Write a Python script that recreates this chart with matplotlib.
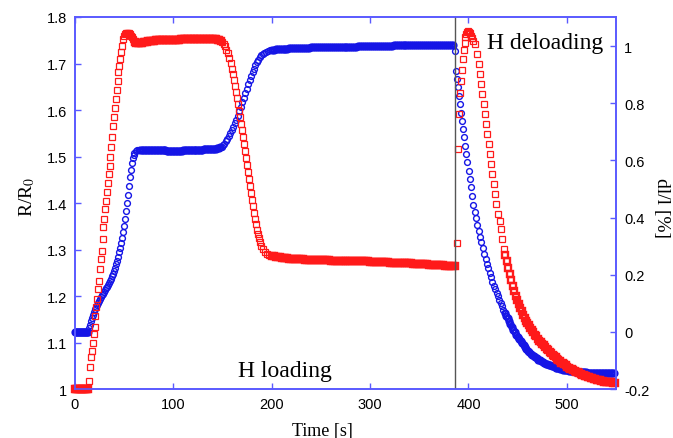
import matplotlib
matplotlib.use('Agg')
import matplotlib.pyplot as plt

plt.rcParams['font.family'] = ['Liberation Sans', 'DejaVu Sans']
plt.rcParams['mathtext.fontset'] = 'stix'

# ---- R/R0 (red squares, left axis) ----
red_base_t = [0, 1, 2, 3, 4, 5, 6, 7, 8, 9, 10, 11, 12, 13]
red_base_r = [1.0, 1.0, 1.0, 1.0, 1.0, 1.0, 1.0, 1.0, 1.0, 1.0, 1.0, 1.0, 1.0, 1.0]

red_rise_t = [14.5, 15.4, 16.3, 17.2, 18.1, 19.0, 19.9, 20.8, 21.7, 22.6,
              23.5, 24.4, 25.3, 26.2, 27.1, 28.0, 28.9, 29.8, 30.7, 31.6,
              32.5, 33.4, 34.3, 35.2, 36.1, 37.0, 37.9, 38.8, 39.7, 40.6,
              41.5, 42.4, 43.3, 44.2, 45.1, 46.0, 46.9, 47.8, 48.7, 49.6,
              50.5, 51.5, 52.5, 53.5, 54.5, 55.5, 56.5, 57.5, 58.5, 59.5]
red_rise_r = [1.018, 1.047, 1.068, 1.082, 1.099, 1.118, 1.133, 1.158, 1.176, 1.194,
              1.215, 1.233, 1.258, 1.280, 1.297, 1.323, 1.348, 1.366, 1.387, 1.405,
              1.424, 1.444, 1.462, 1.480, 1.500, 1.521, 1.543, 1.565, 1.584, 1.604,
              1.624, 1.644, 1.663, 1.681, 1.695, 1.710, 1.724, 1.738, 1.753, 1.760,
              1.763, 1.765, 1.766, 1.766, 1.765, 1.763, 1.760, 1.756, 1.752, 1.749]

red_top_t = [61, 62.5, 64, 65.5, 67, 68.5, 70, 71.5, 73, 74.5,
             76, 77.5, 79, 80.5, 82, 83.5, 85, 86.5, 88, 89.5,
             91, 92.5, 94, 95.5, 97, 98.5, 100, 101.5, 103, 104.5,
             106, 107.5, 109, 110.5, 112, 113.5, 115, 116.5, 118, 119.5,
             121, 122.5, 124, 125.5, 127, 128.5, 130, 131.5, 133, 134.5,
             136, 137.5, 139, 140.5, 142, 143.5, 145, 146.5, 148]
red_top_r = [1.746, 1.745, 1.744, 1.744, 1.745, 1.745, 1.746, 1.746, 1.747, 1.748,
             1.748, 1.749, 1.749, 1.749, 1.750, 1.750, 1.750, 1.750, 1.750, 1.751,
             1.751, 1.751, 1.751, 1.751, 1.751, 1.751, 1.751, 1.751, 1.751, 1.751,
             1.751, 1.752, 1.752, 1.752, 1.752, 1.752, 1.752, 1.752, 1.752, 1.752,
             1.752, 1.752, 1.752, 1.752, 1.752, 1.752, 1.752, 1.752, 1.752, 1.752,
             1.752, 1.752, 1.752, 1.752, 1.752, 1.752, 1.751, 1.750, 1.749]

red_drop_t = [149.5, 151, 152.5, 154, 155.5, 157, 158.5, 160, 161, 162,
              163, 164, 165, 166, 167, 168, 169, 170, 171, 172,
              173, 174, 175, 176, 177, 178, 179, 180, 181, 182,
              183, 184, 185, 186, 187, 188, 189.5, 191, 193, 195, 197.5]
red_drop_r = [1.746, 1.742, 1.737, 1.730, 1.722, 1.712, 1.701, 1.689, 1.677, 1.665,
              1.652, 1.639, 1.626, 1.612, 1.598, 1.584, 1.570, 1.556, 1.541, 1.527,
              1.512, 1.497, 1.482, 1.467, 1.452, 1.437, 1.422, 1.407, 1.393, 1.379,
              1.366, 1.354, 1.343, 1.333, 1.324, 1.316, 1.308, 1.301, 1.295, 1.291, 1.288]

red_low_t = [200, 202, 204, 206, 208, 210, 212, 214, 216, 218,
             220, 222, 224, 226, 228, 230, 232, 234, 236, 238,
             240, 242, 244, 246, 248, 250, 252, 254, 256, 258,
             260, 262, 264, 266, 268, 270, 272, 274, 276, 278,
             280, 282, 284, 286, 288, 290, 292, 294, 296, 298,
             300, 302, 304, 306, 308, 310, 312, 314, 316, 318,
             320, 322, 324, 326, 328, 330, 332, 334, 336, 338,
             340, 342, 344, 346, 348, 350, 352, 354, 356, 358,
             360, 362, 364, 366, 368, 370, 372, 374, 376, 378,
             380, 382, 384, 386]
red_low_r = [1.286, 1.285, 1.284, 1.283, 1.283, 1.282, 1.282, 1.281, 1.281, 1.280,
             1.280, 1.280, 1.280, 1.279, 1.279, 1.279, 1.279, 1.278, 1.278, 1.278,
             1.278, 1.278, 1.277, 1.277, 1.277, 1.277, 1.277, 1.277, 1.277, 1.277,
             1.276, 1.276, 1.276, 1.276, 1.276, 1.276, 1.276, 1.276, 1.276, 1.276,
             1.275, 1.275, 1.275, 1.275, 1.275, 1.275, 1.275, 1.275, 1.275, 1.275,
             1.274, 1.274, 1.274, 1.274, 1.274, 1.274, 1.273, 1.273, 1.273, 1.273,
             1.272, 1.272, 1.272, 1.272, 1.271, 1.271, 1.271, 1.271, 1.270, 1.270,
             1.270, 1.270, 1.269, 1.269, 1.269, 1.269, 1.268, 1.268, 1.268, 1.268,
             1.267, 1.267, 1.267, 1.267, 1.266, 1.266, 1.266, 1.266, 1.265, 1.265,
             1.265, 1.265, 1.264, 1.264]

red_peak_t = [388, 389, 390, 391, 392, 393, 394, 395, 396, 397,
              398, 399, 400, 401, 402, 403, 404, 405, 406.9, 408.6,
              410.3, 411.3, 412.7, 413.7, 415.4, 416.4, 417.8, 418.8, 420.4, 421.5,
              422.9, 424.2, 425.5, 426.9, 428.2, 430, 431.6, 433, 434.5, 436]
red_peak_r = [1.313, 1.516, 1.591, 1.637, 1.663, 1.687, 1.709, 1.728, 1.745, 1.757,
              1.764, 1.768, 1.769, 1.768, 1.765, 1.760, 1.754, 1.749, 1.742, 1.720,
              1.699, 1.677, 1.656, 1.634, 1.613, 1.591, 1.570, 1.548, 1.527, 1.505,
              1.484, 1.462, 1.441, 1.419, 1.398, 1.376, 1.362, 1.344, 1.323, 1.301]

red_tail_t = [437.5, 439, 440.5, 442, 443.5, 445, 446.5, 448, 449.5, 451,
              452.5, 454, 455.5, 457, 458.5, 460, 461.5, 463, 464.5,
              466, 467.5, 469, 470.5, 472, 473.5, 475, 476.5, 478, 479.5,
              481, 482.5, 484, 485.5, 487, 488.5, 490, 491.5, 493, 494.5,
              496, 497.5, 499, 500.5, 502, 503.5, 505, 506.5, 508, 509.5,
              511, 512.5, 514, 515.5, 517, 518.5, 520, 521.5, 523, 524.5,
              526, 527.5, 529, 530.5, 532, 533.5, 535, 536.5, 538, 539.5,
              541, 542.5, 544, 545.5, 547, 548.5]
red_tail_r = [1.289, 1.275, 1.261, 1.247, 1.234, 1.222, 1.210, 1.200, 1.191, 1.183,
              1.175, 1.167, 1.160, 1.153, 1.147, 1.142, 1.137, 1.132, 1.127,
              1.122, 1.117, 1.113, 1.108, 1.104, 1.101, 1.097, 1.094, 1.090, 1.087,
              1.083, 1.080, 1.077, 1.074, 1.071, 1.068, 1.065, 1.062, 1.060, 1.057,
              1.055, 1.053, 1.051, 1.048, 1.046, 1.044, 1.042, 1.041, 1.039, 1.037,
              1.036, 1.034, 1.033, 1.031, 1.030, 1.029, 1.028, 1.026, 1.025, 1.024,
              1.023, 1.022, 1.021, 1.020, 1.019, 1.019, 1.018, 1.017, 1.016, 1.016,
              1.015, 1.015, 1.014, 1.014, 1.013, 1.013]

# ---- dl/l [%] (blue circles, right axis) ----
blue_base_t = [0, 1, 2, 3, 4, 5, 6, 7, 8, 9, 10, 11, 12, 13]
blue_base_d = [0.0, 0.0, 0.0, 0.0, 0.0, 0.0, 0.0, 0.0, 0.0, 0.0, 0.0, 0.0, 0.0, 0.0]

blue_rise_t = [14.5, 15.5, 16.5, 17.5, 18.5, 19.5, 20.5, 21.5, 22.5, 23.5,
               24.5, 25.5, 26.5, 27.5, 28.5, 29.5, 30.5, 31.5, 32.5, 33.5,
               34.5, 35.5, 36.5, 37.5, 38.5, 39.5, 40.5, 41.5, 42.5, 43.5,
               44.5, 45.5, 46.5, 47.5, 48.5, 49.5, 50.5, 51.5, 52.5, 53.5,
               54.5, 55.5, 56.5, 57.5, 58.5, 59.5, 60.5, 62, 63.5, 65]
blue_rise_d = [0.012, 0.025, 0.037, 0.049, 0.060, 0.070, 0.079, 0.087, 0.095, 0.102,
               0.109, 0.116, 0.122, 0.128, 0.134, 0.140, 0.146, 0.152, 0.158, 0.164,
               0.171, 0.178, 0.186, 0.194, 0.203, 0.213, 0.224, 0.236, 0.249, 0.263,
               0.278, 0.294, 0.311, 0.330, 0.350, 0.372, 0.396, 0.422, 0.450, 0.480,
               0.510, 0.540, 0.567, 0.590, 0.607, 0.619, 0.627, 0.632, 0.635, 0.636]

blue_mid_t = [66.5, 68, 69.5, 71, 72.5, 74, 75.5, 77, 78.5, 80,
              81.5, 83, 84.5, 86, 87.5, 89, 90.5, 92, 93.5, 95,
              96.5, 98, 99.5, 101, 102.5, 104, 105.5, 107, 108.5, 110,
              111.5, 113, 114.5, 116, 117.5, 119, 120.5, 122, 123.5, 125,
              126.5, 128, 129.5, 131, 132.5, 134, 135.5, 137, 138.5, 140,
              141.5, 143, 144.5, 146, 147.5]
blue_mid_d = [0.636, 0.636, 0.636, 0.636, 0.636, 0.636, 0.636, 0.636, 0.636, 0.636,
              0.636, 0.636, 0.635, 0.635, 0.635, 0.635, 0.635, 0.635, 0.634, 0.634,
              0.634, 0.634, 0.634, 0.634, 0.634, 0.634, 0.634, 0.634, 0.634, 0.635,
              0.635, 0.635, 0.635, 0.635, 0.635, 0.636, 0.636, 0.636, 0.636, 0.637,
              0.637, 0.637, 0.637, 0.638, 0.638, 0.638, 0.639, 0.639, 0.640, 0.640,
              0.641, 0.641, 0.642, 0.643, 0.645]

blue_up_t = [149, 150.5, 152, 153.5, 155, 156.5, 158, 159.5, 161, 162.5,
             164, 165.5, 167, 168.5, 170, 171.5, 173, 174.5, 176, 177.5,
             179, 180.5, 182, 183.5, 185, 186.5, 188, 189.5, 191, 192.5,
             194, 196, 198]
blue_up_d = [0.648, 0.652, 0.658, 0.666, 0.674, 0.684, 0.695, 0.706, 0.717, 0.729,
             0.742, 0.756, 0.771, 0.787, 0.803, 0.819, 0.835, 0.851, 0.866, 0.881,
             0.896, 0.909, 0.921, 0.933, 0.943, 0.952, 0.960, 0.967, 0.973, 0.977,
             0.980, 0.983, 0.985]

blue_top_t = [200, 202, 204, 206, 208, 210, 212, 214, 216, 218,
              220, 222, 224, 226, 228, 230, 232, 234, 236, 238,
              240, 242, 244, 246, 248, 250, 252, 254, 256, 258,
              260, 262, 264, 266, 268, 270, 272, 274, 276, 278,
              280, 282, 284, 286, 288, 290, 292, 294, 296, 298,
              300, 302, 304, 306, 308, 310, 312, 314, 316, 318,
              320, 322, 324, 326, 328, 330, 332, 334, 336, 338,
              340, 342, 344, 346, 348, 350, 352, 354, 356, 358,
              360, 362, 364, 366, 368, 370, 372, 374, 376, 378,
              380, 382, 384]
blue_top_d = [0.986, 0.987, 0.988, 0.989, 0.989, 0.990, 0.990, 0.991, 0.991, 0.992,
              0.992, 0.992, 0.993, 0.993, 0.993, 0.993, 0.994, 0.994, 0.994, 0.994,
              0.995, 0.995, 0.995, 0.995, 0.995, 0.995, 0.996, 0.996, 0.996, 0.996,
              0.996, 0.996, 0.997, 0.997, 0.997, 0.997, 0.997, 0.997, 0.998, 0.998,
              0.998, 0.998, 0.998, 0.998, 0.999, 0.999, 0.999, 0.999, 0.999, 0.999,
              1.000, 1.000, 1.000, 1.000, 1.000, 1.000, 1.001, 1.001, 1.001, 1.001,
              1.001, 1.001, 1.002, 1.002, 1.002, 1.002, 1.002, 1.002, 1.002, 1.002,
              1.003, 1.003, 1.003, 1.003, 1.003, 1.003, 1.003, 1.003, 1.004, 1.004,
              1.004, 1.004, 1.004, 1.004, 1.004, 1.004, 1.005, 1.005, 1.005, 1.005,
              1.005, 1.005, 1.005]

blue_fall_t = [386.5, 387.5, 388.5, 389.5, 390.5, 391.5, 392.5, 393.5, 394.5, 395.5,
               396.7, 397.8, 399, 400.2, 401.4, 402.6, 403.8, 405, 406.3, 407.6,
               409, 410.4, 411.8, 413.2, 414.6, 416, 417.4, 418.8, 420.2, 421.6,
               423, 424.4, 425.8, 427.2, 428.6, 430, 431.4, 432.8, 434.2, 435.6]
blue_fall_d = [0.983, 0.913, 0.884, 0.855, 0.826, 0.797, 0.767, 0.738, 0.709, 0.680,
               0.651, 0.622, 0.593, 0.563, 0.534, 0.505, 0.476, 0.445, 0.420, 0.397,
               0.375, 0.354, 0.333, 0.313, 0.293, 0.274, 0.256, 0.239, 0.222, 0.206,
               0.191, 0.176, 0.162, 0.149, 0.136, 0.124, 0.112, 0.100, 0.089, 0.078]

blue_tail_t = [437, 438.4, 439.8, 441.2, 442.6, 444, 445.5, 447, 448.5, 450,
               451.5, 453, 454.5, 456, 457.5, 459, 460.5, 462, 463.5, 465,
               466.5, 468, 469.5, 471, 472.5, 474, 475.5,
               477, 478.5, 480, 481.5, 483, 484.5, 486, 487.5, 489, 490.5,
               492, 493.5, 495, 496.5, 498, 499.5, 501, 502.5, 504, 505.5,
               507, 508.5, 510, 511.5, 513, 514.5, 516, 517.5, 519, 520.5,
               522, 523.5, 525, 526.5, 528, 529.5, 531, 532.5, 534, 535.5,
               537, 538.5, 540, 541.5, 543, 544.5, 546, 547.5]
blue_tail_d = [0.067, 0.057, 0.047, 0.037, 0.027, 0.018, 0.008, -0.001, -0.010, -0.018,
               -0.026, -0.033, -0.040, -0.047, -0.054, -0.060, -0.066, -0.071, -0.076, -0.081,
               -0.085, -0.089, -0.093, -0.097, -0.100, -0.103, -0.106,
               -0.108, -0.111, -0.113, -0.115, -0.117, -0.119, -0.121, -0.123, -0.125, -0.126,
               -0.128, -0.129, -0.131, -0.132, -0.133, -0.134, -0.135, -0.136, -0.137, -0.138,
               -0.138, -0.139, -0.140, -0.140, -0.141, -0.141, -0.142, -0.142, -0.142, -0.143,
               -0.143, -0.143, -0.143, -0.143, -0.144, -0.144, -0.144, -0.144, -0.144, -0.144,
               -0.144, -0.144, -0.144, -0.144, -0.144, -0.144, -0.144, -0.144]

# segments sampled densely look like a solid band in the original -> heavier edges
red_sparse = [(red_rise_t, red_rise_r), (red_drop_t, red_drop_r), (red_peak_t, red_peak_r)]
red_dense = [(red_base_t, red_base_r), (red_top_t, red_top_r),
             (red_low_t, red_low_r), (red_tail_t, red_tail_r)]
blue_sparse = [(blue_rise_t, blue_rise_d), (blue_up_t, blue_up_d), (blue_fall_t, blue_fall_d)]
blue_dense = [(blue_base_t, blue_base_d), (blue_mid_t, blue_mid_d),
              (blue_top_t, blue_top_d), (blue_tail_t, blue_tail_d)]

x_ticks = [0, 100, 200, 300, 400, 500]
left_ticks = [1, 1.1, 1.2, 1.3, 1.4, 1.5, 1.6, 1.7, 1.8]
left_labels = ['1', '1.1', '1.2', '1.3', '1.4', '1.5', '1.6', '1.7', '1.8']
right_ticks = [-0.2, 0, 0.2, 0.4, 0.6, 0.8, 1]
right_labels = ['-0.2', '0', '0.2', '0.4', '0.6', '0.8', '1']
switch_time = 386

spine_col = '#5a5aff'
red_col = '#ff1a1a'
blue_col = '#1515e6'
serif = ['Liberation Serif', 'DejaVu Serif']

fig = plt.figure(figsize=(6.73, 4.39), dpi=100)
ax = fig.add_axes([0.1114, 0.1116, 0.8039, 0.8474])
ax2 = ax.twinx()
ax.set_zorder(ax2.get_zorder() + 1)
ax.patch.set_visible(False)

for seg, mew in [(blue_sparse, 1.0), (blue_dense, 1.7)]:
    for t, d in seg:
        ax2.plot(t, d, linestyle='none', marker='o', markersize=4.2,
                 markerfacecolor='none', markeredgecolor=blue_col,
                 markeredgewidth=mew, clip_on=False)
for seg, mew in [(red_sparse, 0.9), (red_dense, 1.7)]:
    for t, r in seg:
        ax.plot(t, r, linestyle='none', marker='s', markersize=4.3,
                markerfacecolor='none', markeredgecolor=red_col,
                markeredgewidth=mew, clip_on=False)
ax.axvline(switch_time, color='#555555', linewidth=1.0)

ax.set_xlim(0, 550)
ax.set_ylim(1.0, 1.8)
ax2.set_ylim(-0.2, 1.1015)

ax.set_xticks(x_ticks)
ax.set_yticks(left_ticks)
ax.set_yticklabels(left_labels)
ax2.set_yticks(right_ticks)
ax2.set_yticklabels(right_labels)

for a in (ax, ax2):
    for s in a.spines.values():
        s.set_color(spine_col)
        s.set_linewidth(1.2)
ax.tick_params(axis='x', direction='in', length=4, width=1, color=spine_col,
               top=True, labelsize=10.5, pad=6)
ax.tick_params(axis='y', direction='in', length=4, width=1, color=spine_col,
               right=False, labelsize=10.5, pad=6)
ax2.tick_params(axis='y', direction='in', length=4, width=1, color=spine_col,
                labelsize=10.5, pad=6)

ax.set_xlabel('Time [s]', family=serif, fontsize=13)
ax.xaxis.set_label_coords(0.457, -0.09)
ax.set_ylabel('R/R$_{\\rm 0}$', family=serif, fontsize=14)
ax.yaxis.set_label_coords(-0.07, 0.52)
ax2.set_ylabel('dl/l [%]', family=serif, fontsize=14, rotation=270)
ax2.yaxis.set_label_coords(1.10, 0.49)

ax.text(165.5, 1.039, 'H loading', family=serif, fontsize=17, va='center', ha='left')
ax.text(419, 1.746, 'H deloading', family=serif, fontsize=17, va='center', ha='left')

fig.savefig('out.png', dpi=100)
